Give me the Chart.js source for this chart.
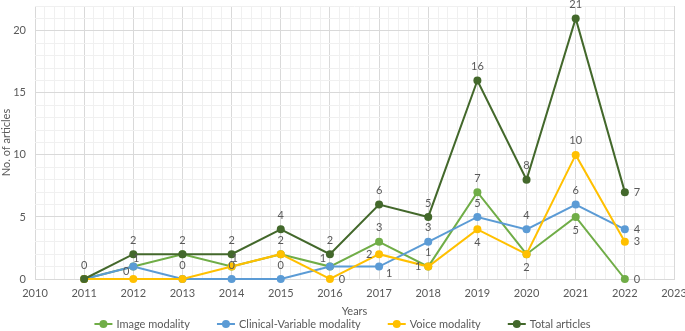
<!DOCTYPE html>
<html>
<head>
<meta charset="utf-8">
<script src="https://cdn.jsdelivr.net/npm/chart.js@4"></script>
<style>
  html, body { margin: 0; padding: 0; background: #fff; }
  #wrap { width: 685px; height: 331px; }
</style>
</head>
<body>
<div id="wrap"><canvas id="articles-chart"></canvas></div>
<script>
// data
const years = [2011, 2012, 2013, 2014, 2015, 2016, 2017, 2018, 2019, 2020, 2021, 2022];
const imageModality = [0, 1, 2, 1, 2, 1, 3, 1, 7, 2, 5, 0];
const clinicalModality = [0, 1, 0, 0, 0, 1, 1, 3, 5, 4, 6, 4];
const voiceModality = [0, 0, 0, 1, 2, 0, 2, 1, 4, 2, 10, 3];
const totalArticles = [0, 2, 2, 2, 4, 2, 6, 5, 16, 8, 21, 7];
const seriesNames = ['Image modality', 'Clinical-Variable modality', 'Voice modality', 'Total articles'];

// where each value label sits ('' = hidden, like Excel's overlapping ones)
const labelSpots = [
    ['', 'tr', '', 'tr', 't', 'tl', 't', 't', 't', 'b', 'b', 'r'],
    ['', '', '', 't', 't', '', 'br', 't', 't', 't', 't', 'r'],
    ['', 'tl', 't', '', '', 'r', 'l', 'l', 'b', '', 't', 'r'],
    ['t', 't', 't', 't', 't', 't', 't', 't', 't', 't', 't', 'r']
];

const colors = ['#70ad47', '#5b9bd5', '#ffc000', '#43682b'];
const textGray = '#595959';
const fontFamily = 'Lato, "Open Sans", sans-serif';

function toPoints(values) {
    return values.map((v, i) => ({ x: years[i], y: v }));
}

const valueLabels = {
    id: 'valueLabels',
    afterDatasetsDraw(chart) {
        const ctx = chart.ctx;
        ctx.save();
        ctx.font = '11px ' + fontFamily;
        ctx.fillStyle = textGray;
        ctx.textAlign = 'center';
        ctx.textBaseline = 'middle';
        chart.data.datasets.forEach((ds, di) => {
            const meta = chart.getDatasetMeta(di);
            meta.data.forEach((pt, i) => {
                const spot = labelSpots[di][i];
                if (!spot) return;
                let dx = 0, dy = 0;
                if (spot.includes('t')) dy = -14;
                if (spot.includes('b')) dy = 13;
                if (spot.includes('l')) dx = -10;
                if (spot.includes('r')) dx = 12;
                if (spot === 'tr' || spot === 'tl') { dy = -8; dx = spot === 'tr' ? 3 : -7; }
                if (spot === 'br') { dy = 7; dx = 10; }
                ctx.fillText(String(ds.data[i].y), pt.x + dx, pt.y + dy);
            });
        });
        ctx.restore();
    }
};

// hand drawn legend: Excel style line-with-dot markers, wide gaps
const bottomLegend = {
    id: 'bottomLegend',
    afterDraw(chart) {
        const ctx = chart.ctx;
        ctx.save();
        ctx.font = '11px ' + fontFamily;
        const markW = 18, gapText = 4, gapItem = 27;
        const widths = seriesNames.map(n => markW + gapText + ctx.measureText(n).width);
        const total = widths.reduce((a, b) => a + b, 0) + gapItem * (widths.length - 1);
        let x = (chart.width - total) / 2;
        const y = 324;
        seriesNames.forEach((name, i) => {
            ctx.strokeStyle = colors[i];
            ctx.fillStyle = colors[i];
            ctx.lineWidth = 2;
            ctx.beginPath();
            ctx.moveTo(x, y);
            ctx.lineTo(x + markW, y);
            ctx.stroke();
            ctx.beginPath();
            ctx.arc(x + markW / 2, y, 4, 0, Math.PI * 2);
            ctx.fill();
            ctx.fillStyle = textGray;
            ctx.textAlign = 'left';
            ctx.textBaseline = 'middle';
            ctx.fillText(name, x + markW + gapText, y);
            x += widths[i] + gapItem;
        });
        ctx.restore();
    }
};

const seriesValues = [imageModality, clinicalModality, voiceModality, totalArticles];
const drawOrder = [3, 2, 1, 0];

const datasets = seriesValues.map((vals, i) => ({
    label: seriesNames[i],
    data: toPoints(vals),
    borderColor: colors[i],
    backgroundColor: colors[i],
    borderWidth: 2,
    pointRadius: 4,
    pointHoverRadius: 4,
    pointBorderWidth: 0,
    order: drawOrder[i],
    clip: false
}));

function isWhole(v) {
    return Math.abs(v - Math.round(v)) < 1e-6;
}

const ctx = document.getElementById('articles-chart').getContext('2d');
const chart = new Chart(ctx, {
    type: 'line',
    data: { datasets: datasets },
    options: {
        responsive: true,
        maintainAspectRatio: false,
        animation: false,
        layout: { padding: { left: 0, right: 0, top: 0, bottom: 15 } },
        scales: {
            x: {
                type: 'linear',
                min: 2010,
                max: 2023,
                afterFit: s => { s.paddingRight = 11; },
                ticks: {
                    stepSize: 0.2,
                    autoSkip: false,
                    maxRotation: 0,
                    color: textGray,
                    font: { family: fontFamily, size: 11 },
                    padding: 7.5,
                    callback: v => isWhole(v) ? String(Math.round(v)) : ''
                },
                grid: {
                    color: c => isWhole(c.tick.value) ? '#d9d9d9' : '#f0f0f0',
                    drawTicks: false
                },
                border: { color: '#d9d9d9' },
                title: {
                    display: true,
                    text: 'Years',
                    color: textGray,
                    font: { family: fontFamily, size: 11, lineHeight: 0.8 },
                    padding: { top: 0, bottom: 0 }
                }
            },
            y: {
                min: 0,
                max: 22,
                afterFit: s => { s.paddingTop = 6; s.width = 35; },
                ticks: {
                    stepSize: 1,
                    autoSkip: false,
                    color: textGray,
                    font: { family: fontFamily, size: 11 },
                    padding: 9,
                    callback: v => v % 5 === 0 ? String(v) : ''
                },
                grid: {
                    color: c => c.tick.value % 5 === 0 ? '#d9d9d9' : '#f0f0f0',
                    drawTicks: false
                },
                border: { display: false },
                title: {
                    display: true,
                    text: 'No. of articles',
                    color: textGray,
                    font: { family: fontFamily, size: 11, lineHeight: 1 },
                    padding: { top: 1, bottom: 0 }
                }
            }
        },
        plugins: {
            legend: { display: false },
            tooltip: { enabled: false }
        }
    },
    plugins: [valueLabels, bottomLegend]
});
</script>
</body>
</html>
